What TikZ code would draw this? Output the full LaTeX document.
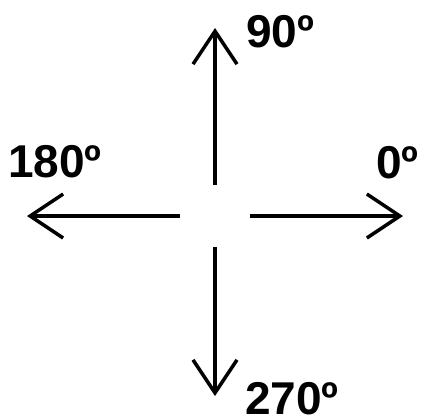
\documentclass[tikz,border=0pt]{standalone}
\usepackage{fontspec}
\setmainfont{Liberation Sans}
\usetikzlibrary{arrows.meta}
\begin{document}
\begin{tikzpicture}[x=1pt,y=-1pt,
  axis/.style={line width=4pt,-{Straight Barb[length=33pt,width=44pt,line width=3.5pt]}},
  deg/.style={font=\fontsize{46}{46}\selectfont\bfseries,inner sep=0pt,anchor=base west}]
  \useasboundingbox (0,0) rectangle (422,416);
  \def\gap{33}
  \coordinate (O) at (215,216);
  \coordinate (n0) at (215,185); \coordinate (n) at (215,28);
  \coordinate (s0) at (215,247); \coordinate (s) at (215,396);
  \coordinate (e0) at (250,216); \coordinate (e) at (403,216);
  \coordinate (w0) at (180,216); \coordinate (w) at (27,216);
  \draw[axis] (n0)--(n);
  \draw[axis] (s0)--(s);
  \draw[axis] (e0)--(e);
  \draw[axis] (w0)--(w);
  \node[deg] (lab90) at (246,47) {90º};
  \node[deg] (lab180) at (8,177) {180º};
  \node[deg] (lab0) at (376,178) {0º};
  \node[deg] (lab270) at (245,414) {270º};
\end{tikzpicture}
\end{document}
